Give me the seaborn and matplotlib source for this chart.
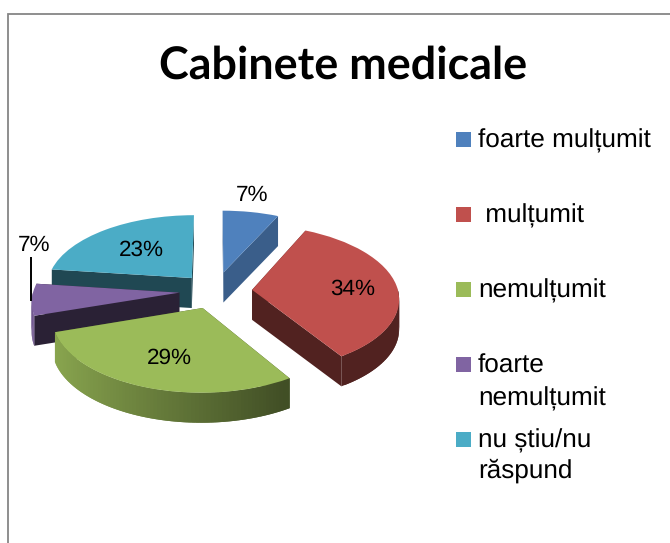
import numpy as np
import matplotlib
matplotlib.use("Agg")
import matplotlib.pyplot as plt
from matplotlib.patches import Polygon, Rectangle
from matplotlib.transforms import Transform
import seaborn as sns

# Data
title = "Cabinete medicale"
categories = ["foarte mulțumit", " mulțumit", "nemulțumit", "foarte\nnemulțumit", "nu știu/nu\nrăspund"]
values = [7, 34, 29, 7, 23]

# Styling
base_colors = ["#4f81bd", "#c0504d", "#9bbb59", "#8064a2", "#4bacc6"]
wall_shade = [0.73, 0.42, 0.42, 0.33, 0.42]
explode = [0.27, 0.255, 0.245, 0.245, 0.245]
label_pos = [(252, 195), (353, 289), (169, 358), (34, 245), (141, 250)]
legend_y = [132, 207, 282, 357, 432]
legend_spacing = [1.0, 1.0, 1.0, 1.42, 1.28]
DEPTH = 30
draw_order = [0, 4, 3, 1, 2]


class PiePerspective(Transform):
    # tilts the flat unit pie into image pixels
    input_dims = 2
    output_dims = 2

    def transform_non_affine(self, xy):
        xy = np.asarray(xy, dtype=float)
        w = 1 + 0.105 * xy[:, 1]
        return np.column_stack([215 + 146 * xy[:, 0] / w, 291 - 72 * xy[:, 1] / w])


sns.set_theme(style="white")
plt.rcParams["font.family"] = ["Liberation Sans", "DejaVu Sans"]
plt.rcParams["text.hinting"] = "no_hinting"
colors = sns.color_palette(base_colors)

fig = plt.figure(figsize=(6.7, 5.43), dpi=100)
ax = fig.add_axes([0, 0, 1, 1])
wedges, _ = ax.pie(values, explode=explode, startangle=90, counterclock=False, colors=colors)
ax.set_aspect("auto")
ax.set_xlim(0, 670)
ax.set_ylim(543, 0)
ax.axis("off")

persp = PiePerspective()


def shaded(color, f):
    return tuple(c * f for c in color)


for order, i in enumerate(draw_order):
    w = wedges[i]
    color = colors[i]
    cx, cy = w.center
    theta = np.radians(np.linspace(w.theta1, w.theta2, 80))
    rim = persp.transform(np.column_stack([cx + w.r * np.cos(theta), cy + w.r * np.sin(theta)]))
    apex = persp.transform(np.array([[cx, cy]]))[0]

    # flat sides, back one first
    for p in sorted([rim[0], rim[-1]], key=lambda p: p[1]):
        quad = [apex, p, p + [0, DEPTH], apex + [0, DEPTH]]
        ax.add_patch(Polygon(quad, facecolor=shaded(color, wall_shade[i]), edgecolor="none", zorder=order * 3 + 1))

    # outer rim, lit from the left; strips overlap so no seams show
    for j in range(len(theta) - 1):
        mid = (theta[j] + theta[j + 1]) / 2
        if np.sin(mid) > 0:
            continue
        k = min(j + 2, len(theta) - 1)
        f = np.interp(np.cos(mid), [-1, 0.5], [0.9, 0.42])
        quad = [rim[j], rim[k], rim[k] + [0, DEPTH], rim[j] + [0, DEPTH]]
        ax.add_patch(Polygon(quad, facecolor=shaded(color, f), edgecolor="none", zorder=order * 3 + 2))

    w.set_transform(persp + ax.transData)
    w.set_zorder(order * 3 + 3)
    w.set_linewidth(0)

# Percent labels
for v, (x, y) in zip(values, label_pos):
    ax.text(x, y, f"{v}%", fontsize=16.2, color="black", ha="center", va="center", zorder=40)
ax.plot([30.7, 30.7], [257, 301], color="black", lw=1.4, zorder=41, solid_capstyle="butt")

# Legend
for cat, color, y, sp in zip(categories, colors, legend_y, legend_spacing):
    ax.add_patch(Rectangle((456, y), 15, 15, facecolor=color, edgecolor="none", zorder=40))
    ax.text(478, y - 3, cat, fontsize=18.8, color="black", ha="left", va="top", linespacing=sp, zorder=40)

# Title and chart border
ax.text(343, 66, title, fontsize=32.3, fontweight="bold", family=["Lato", "DejaVu Sans"], ha="center", va="center", color="black")
ax.plot([7.7, 7.7, 670], [543, 14, 14], color="#868686", lw=1.3, solid_joinstyle="miter", zorder=42)

fig.savefig("out.png", dpi=100)
